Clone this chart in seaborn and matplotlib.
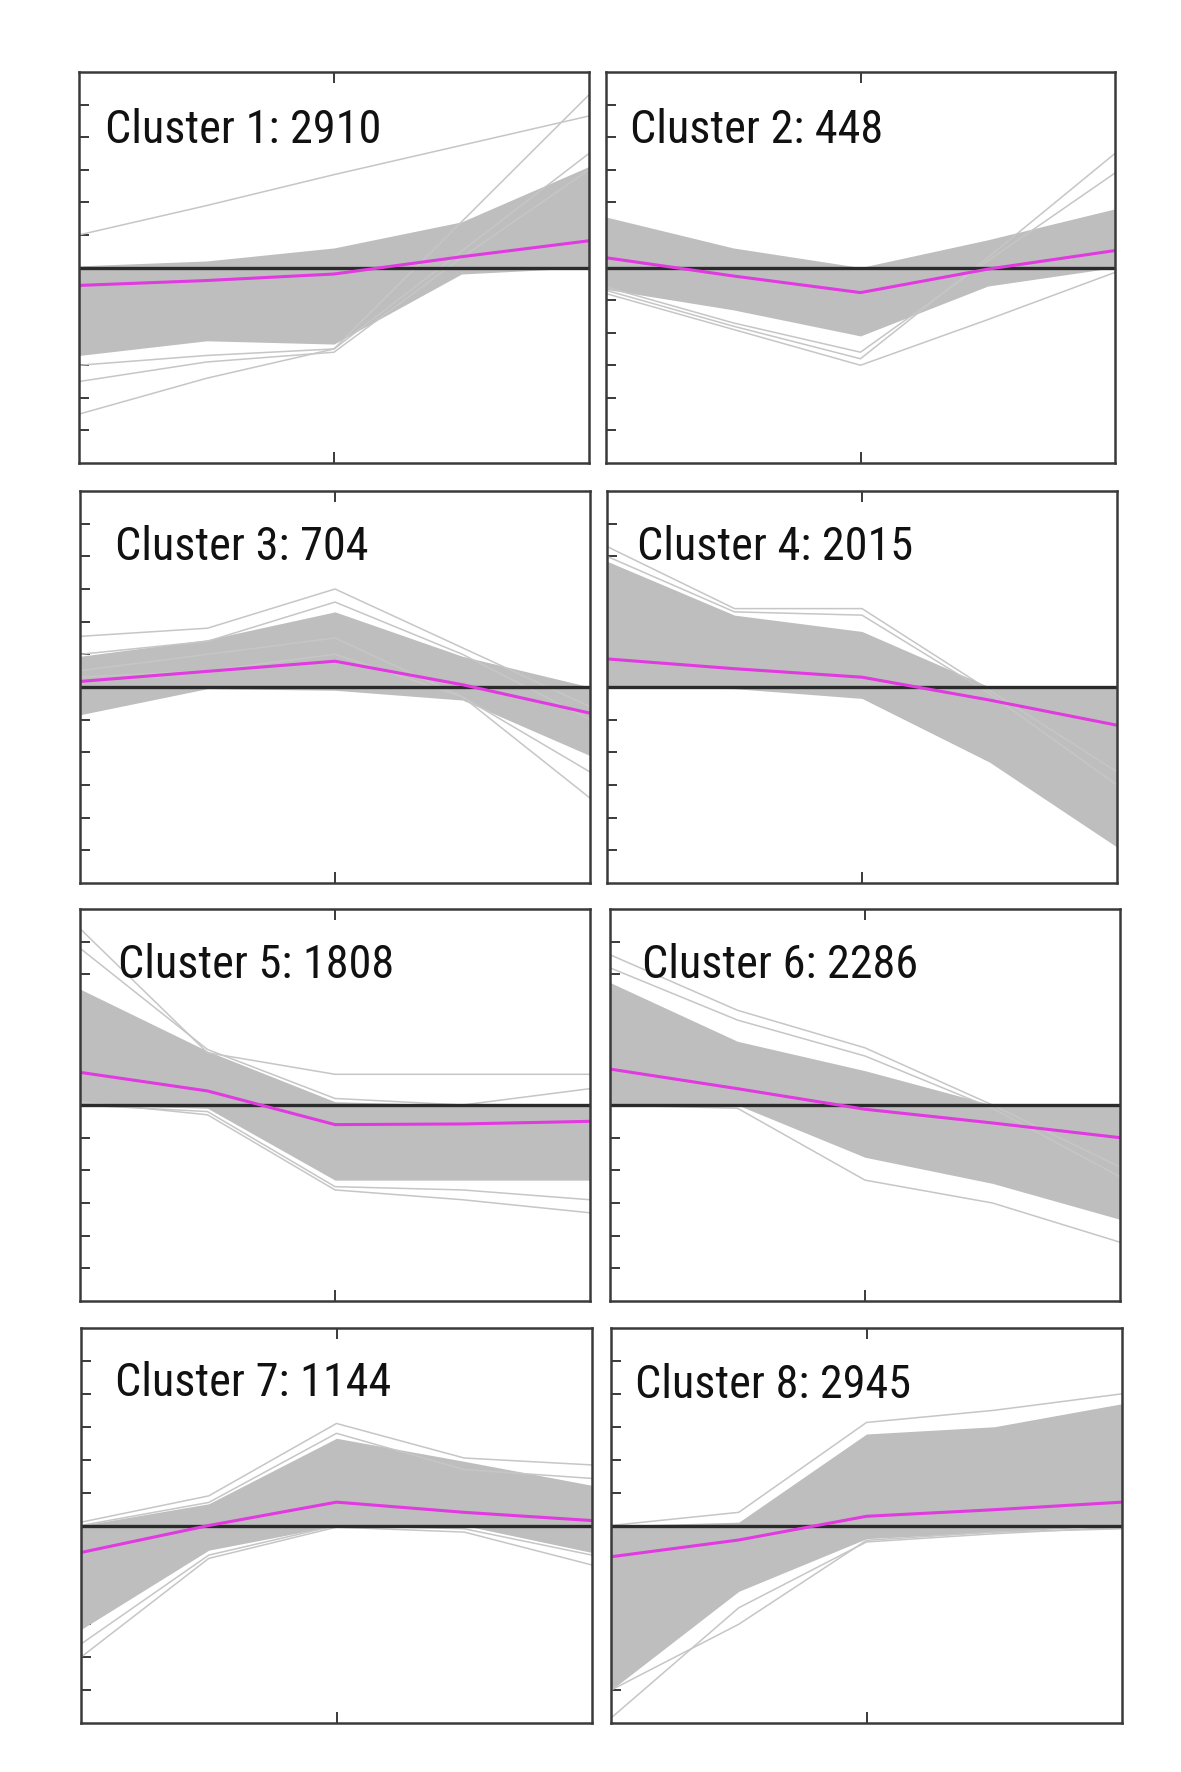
import numpy as np
import pandas as pd
import matplotlib
matplotlib.use("Agg")
import matplotlib.pyplot as plt
import matplotlib.font_manager as fm
import seaborn as sns

# ---------------- data ----------------
time_points = [0, 1, 2, 3, 4]
cluster_titles = ["Cluster 1: 2910", "Cluster 2: 448", "Cluster 3: 704", "Cluster 4: 2015",
                  "Cluster 5: 1808", "Cluster 6: 2286", "Cluster 7: 1144", "Cluster 8: 2945"]

# mean profile (magenta)
mean_c1 = [-0.55, -0.40, -0.20, 0.33, 0.82]
mean_c2 = [0.30, -0.26, -0.77, -0.05, 0.52]
mean_c3 = [0.17, 0.48, 0.79, 0.07, -0.80]
mean_c4 = [0.86, 0.56, 0.30, -0.40, -1.17]
mean_c5 = [1.00, 0.43, -0.60, -0.58, -0.50]
mean_c6 = [1.10, 0.50, -0.13, -0.55, -1.00]
mean_c7 = [-0.82, 0.00, 0.71, 0.40, 0.15]
mean_c8 = [-0.95, -0.44, 0.28, 0.48, 0.71]

# upper / lower edge of the dense band of member profiles
upper_c1 = [0.05, 0.20, 0.60, 1.40, 3.10]
lower_c1 = [-2.70, -2.25, -2.35, -0.20, 0.00]
upper_c2 = [1.55, 0.60, 0.00, 0.85, 1.80]
lower_c2 = [-0.67, -1.30, -2.10, -0.57, 0.00]
upper_c3 = [0.94, 1.45, 2.30, 0.94, 0.00]
lower_c3 = [-0.85, -0.05, -0.10, -0.40, -2.10]
upper_c4 = [3.85, 2.20, 1.70, 0.00, 0.00]
lower_c4 = [0.00, -0.05, -0.35, -2.30, -4.90]
upper_c5 = [3.55, 1.65, 0.10, 0.00, 0.00]
lower_c5 = [0.00, -0.10, -2.30, -2.30, -2.30]
upper_c6 = [3.75, 1.95, 1.05, 0.00, 0.00]
lower_c6 = [0.00, 0.00, -1.60, -2.40, -3.50]
upper_c7 = [0.00, 0.66, 2.65, 1.95, 1.22]
lower_c7 = [-3.16, -0.75, 0.00, 0.00, -0.82]
upper_c8 = [0.00, 0.10, 2.78, 3.00, 3.70]
lower_c8 = [-5.00, -2.00, -0.40, -0.20, 0.00]

# individual outlying profiles visible outside the band
outliers_c1 = [[1.00, 1.90, 2.85, 3.75, 4.65],
               [-4.50, -3.40, -2.50, 0.50, 3.50],
               [-3.50, -2.90, -2.60, 0.30, 3.00],
               [-3.00, -2.70, -2.50, 1.40, 5.30]]
outliers_c2 = [[-0.80, -1.90, -3.00, -1.60, -0.15],
               [-0.70, -1.80, -2.80, 0.30, 3.50],
               [-0.60, -1.70, -2.60, 0.20, 2.90]]
outliers_c3 = [[1.55, 1.80, 3.00, 1.20, -0.60],
               [1.00, 1.40, 2.60, 1.00, -1.00],
               [0.50, 1.00, 1.50, -0.30, -3.40],
               [0.30, 0.50, 1.00, -0.30, -2.60]]
outliers_c4 = [[4.30, 2.40, 2.40, -0.10, -2.60],
               [4.00, 2.30, 2.20, -0.20, -3.00]]
outliers_c5 = [[5.40, 1.60, 0.94, 0.94, 0.94],
               [4.80, 1.70, 0.20, 0.00, 0.50],
               [0.10, -0.30, -2.60, -2.90, -3.30],
               [0.00, -0.20, -2.50, -2.60, -2.90]]
outliers_c6 = [[4.60, 2.90, 1.75, 0.00, -1.90],
               [4.20, 2.60, 1.50, -0.10, -2.20],
               [0.00, -0.10, -2.30, -3.00, -4.20]]
outliers_c7 = [[0.10, 0.90, 3.10, 2.05, 1.84],
               [0.00, 0.70, 2.80, 1.70, 1.43],
               [-4.00, -1.00, -0.05, -0.20, -1.20],
               [-3.60, -0.90, 0.00, -0.10, -0.90]]
outliers_c8 = [[0.00, 0.40, 3.13, 3.50, 4.00],
               [-5.00, -3.00, -0.45, -0.20, -0.10],
               [-5.85, -2.50, -0.50, -0.25, -0.05]]

means = [mean_c1, mean_c2, mean_c3, mean_c4, mean_c5, mean_c6, mean_c7, mean_c8]
uppers = [upper_c1, upper_c2, upper_c3, upper_c4, upper_c5, upper_c6, upper_c7, upper_c8]
lowers = [lower_c1, lower_c2, lower_c3, lower_c4, lower_c5, lower_c6, lower_c7, lower_c8]
outliers = [outliers_c1, outliers_c2, outliers_c3, outliers_c4,
            outliers_c5, outliers_c6, outliers_c7, outliers_c8]

# ---------------- layout / style ----------------
sns.set_style("white")
plt.rcParams["font.family"] = ["Liberation Sans", "DejaVu Sans"]

# pick a narrow / condensed face if one is installed
def pick_title_font():
    prefs = ["Liberation Sans Narrow", "Roboto Condensed", "Open Sans Condensed",
             "DejaVu Sans Condensed", "Noto Sans Condensed"]
    regular = []
    for f in fm.fontManager.ttflist:
        key = (f.name + " " + f.fname)
        if ("Narrow" in key or "Condensed" in key or f.stretch in ("condensed", "semi-condensed")) \
                and f.weight in (400, "normal", "regular") and f.style == "normal":
            regular.append(f)
    for p in prefs:
        for f in regular:
            if f.name == p or p.replace(" ", "") in f.fname.replace(" ", ""):
                return fm.FontProperties(fname=f.fname)
    if regular:
        return fm.FontProperties(fname=regular[0].fname)
    return fm.FontProperties(family=["Liberation Sans", "DejaVu Sans"])

title_font = pick_title_font()

W, H = 1181, 1772
fig = plt.figure(figsize=(W / 100, H / 100), dpi=100)

# panel boxes in pixels: (left, top, right, bottom)
boxes = [(79, 72, 589, 463), (606, 72, 1115, 463),
         (80, 491, 590, 883), (607, 491, 1117, 883),
         (80, 909, 590, 1301), (610, 909, 1120, 1301),
         (81, 1328, 592, 1723), (611, 1328, 1122, 1723)]
title_dx = [26, 24, 35, 30, 38, 32, 34, 24]
title_base = [71, 71, 69, 69, 69, 69, 68, 70]
TITLE_W = 276.0   # pixel width of "Cluster 1: 2910" in the reference
TITLE_CAP_MAX = 38.0

BAND = "#bebebe"
LINE = "#c6c6c6"
MAGENTA = "#e03ae0"
FRAME = "#3a3a3a"

texts = []
for i in range(8):
    l, t, r, b = boxes[i]
    ax = fig.add_axes([l / W, 1 - b / H, (r - l) / W, (b - t) / H])

    ax.fill_between(time_points, lowers[i], uppers[i], color=BAND, linewidth=0, zorder=1)

    rows = []
    for k, prof in enumerate(outliers[i]):
        for tp, v in zip(time_points, prof):
            rows.append({"t": tp, "v": v, "line": k})
    df = pd.DataFrame(rows)
    sns.lineplot(data=df, x="t", y="v", units="line", estimator=None, color=LINE,
                 linewidth=1.1, ax=ax, legend=False, zorder=2)

    ax.axhline(0, color="#2b2b2b", linewidth=2.4, zorder=3)
    sns.lineplot(x=time_points, y=means[i], color=MAGENTA, linewidth=2.2, ax=ax, zorder=4)

    ax.set_xlim(0, 4)
    ax.set_ylim(-6, 6)
    ax.set_xticks([2])
    ax.set_yticks([-5, -4, -3, -2, -1, 1, 2, 3, 4, 5])
    ax.set_xticklabels([])
    ax.set_yticklabels([])
    ax.set_xlabel("")
    ax.set_ylabel("")
    ax.tick_params(axis="x", direction="in", length=8, width=1.4, color=FRAME,
                   top=True, bottom=True)
    ax.tick_params(axis="y", direction="in", length=7, width=1.4, color=FRAME,
                   left=True, right=False)
    for s in ax.spines.values():
        s.set_color(FRAME)
        s.set_linewidth(1.8)
        s.set_zorder(5)

    txt = ax.text(title_dx[i] / (r - l), 1 - title_base[i] / (b - t), cluster_titles[i],
                  transform=ax.transAxes, ha="left", va="baseline", fontsize=37,
                  fontproperties=title_font, color="#111111", zorder=6)
    texts.append(txt)

# size the titles so that their width matches the reference
for txt in texts:
    txt.set_fontsize(37)
renderer = fig.canvas.get_renderer()
w0 = texts[0].get_window_extent(renderer).width
fs = 37 * TITLE_W / w0
# keep the cap height no taller than in the reference (~0.72 em)
fs = min(fs, TITLE_CAP_MAX / 0.72 * 72 / 100)
for txt in texts:
    txt.set_fontsize(fs)

fig.savefig("out.png", dpi=100, facecolor="white")
